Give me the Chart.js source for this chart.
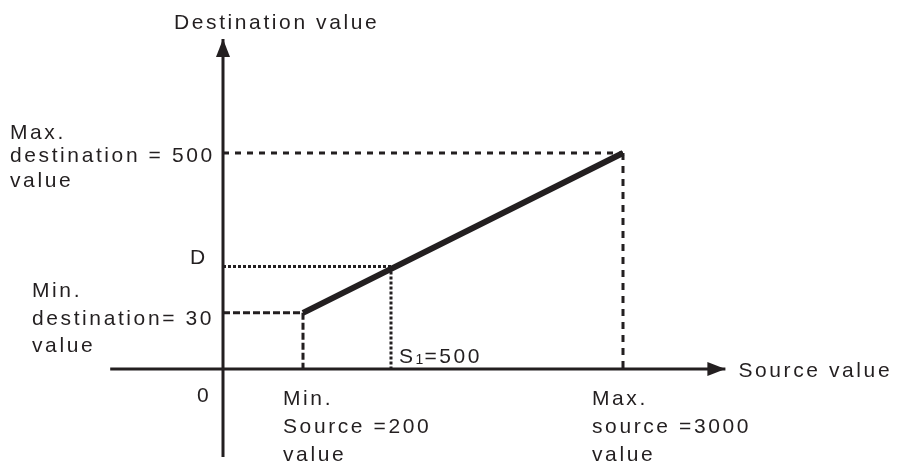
<!DOCTYPE html>
<html>
<head>
<meta charset="utf-8">
<script src="https://cdn.jsdelivr.net/npm/chart.js@4"></script>
<style>
  html, body { margin: 0; padding: 0; background: #fff; }
  #wrap { width: 900px; height: 466px; position: relative; }
</style>
</head>
<body>
<div id="wrap"><canvas id="escala"></canvas></div>
<script>
// sketch is not to scale: each value has its own spot along the axis (schematic units)
const sourceTicks = ['0', '200', '500', '3000'];
const sourceAt = [0, 1, 2.1, 5];
const destTicks = ['0', '30', 'D', '500'];
const destAt = [0, 1.04, 1.9, 4];
const axisX = [-1.41, 6.28];   // left end .. arrow tip
const axisY = [-1.63, 6.11];   // bottom end .. arrow tip

const ink = '#231f20';
const pt = (x, y) => ({ x, y });

const seg = (data, width, dash) => ({
  data, showLine: true, borderColor: ink, borderWidth: width,
  borderDash: dash || [], pointRadius: 0, borderCapStyle: 'butt', tension: 0
});

const datasets = [
  seg([pt(axisX[0], 0), pt(axisX[1], 0)], 3),
  seg([pt(0, axisY[0]), pt(0, axisY[1])], 3),
  // max guides
  seg([pt(0, destAt[3]), pt(sourceAt[3], destAt[3])], 3, [6, 6]),
  seg([pt(sourceAt[3], destAt[3]), pt(sourceAt[3], 0)], 3, [7, 6]),
  // min guides
  seg([pt(0, destAt[1]), pt(sourceAt[1], destAt[1])], 3, [7, 3]),
  seg([pt(sourceAt[1], destAt[1]), pt(sourceAt[1], 0)], 3, [7, 3]),
  // D / S1 guides
  seg([pt(0, destAt[2]), pt(sourceAt[2], destAt[2])], 3, [3, 2]),
  seg([pt(sourceAt[2], destAt[2]), pt(sourceAt[2], 0)], 3, [3, 2]),
  // scaling line
  seg([pt(sourceAt[1], destAt[1]), pt(sourceAt[3], destAt[3])], 6)
];

const FONT = '21px "Liberation Sans", Arial, sans-serif';
const SPACING = '2.6px';

const labels = {
  id: 'labels',
  afterDatasetsDraw(chart) {
    const ctx = chart.ctx;
    const X = v => chart.scales.x.getPixelForValue(v);
    const Y = v => chart.scales.y.getPixelForValue(v);
    const x0 = X(0), y0 = Y(0);
    ctx.save();
    ctx.fillStyle = ink;

    // arrow heads
    const tx = X(axisX[1]);
    ctx.beginPath();
    ctx.moveTo(tx, y0); ctx.lineTo(tx - 18, y0 - 7); ctx.lineTo(tx - 18, y0 + 7); ctx.closePath();
    ctx.fill();
    const ty = Y(axisY[1]);
    ctx.beginPath();
    ctx.moveTo(x0, ty); ctx.lineTo(x0 - 7, ty + 18); ctx.lineTo(x0 + 7, ty + 18); ctx.closePath();
    ctx.fill();

    ctx.font = FONT;
    if ('letterSpacing' in ctx) ctx.letterSpacing = SPACING;
    ctx.textAlign = 'left';
    ctx.textBaseline = 'alphabetic';
    const t = (s, x, y) => ctx.fillText(s, x, y);

    t('Destination value', x0 - 49, ty - 10);
    t('Source value', tx + 13, y0 + 8);

    const yMax = Y(destAt[3]);
    t('Max.', x0 - 213, yMax - 14);
    t('destination = ' + destTicks[3], x0 - 213, yMax + 9);
    t('value', x0 - 213, yMax + 34);

    const yMin = Y(destAt[1]);
    t('Min.', x0 - 191, yMin - 16);
    t('destination= ' + destTicks[1], x0 - 191, yMin + 12);
    t('value', x0 - 191, yMin + 39);

    t(destTicks[2], x0 - 33, Y(destAt[2]) - 2);
    t(sourceTicks[0], x0 - 26, y0 + 33);

    const xMin = X(sourceAt[1]);
    t('Min.', xMin - 20, y0 + 36);
    t('Source =' + sourceTicks[1], xMin - 20, y0 + 64);
    t('value', xMin - 20, y0 + 92);

    const xMax = X(sourceAt[3]);
    t('Max.', xMax - 31, y0 + 36);
    t('source =' + sourceTicks[3], xMax - 31, y0 + 64);
    t('value', xMax - 31, y0 + 92);

    // S1=500 with small subscript
    let sx = X(sourceAt[2]) + 8;
    const sy = y0 - 6;
    t('S', sx, sy);
    sx += ctx.measureText('S').width;
    ctx.font = '14px "Liberation Sans", Arial, sans-serif';
    if ('letterSpacing' in ctx) ctx.letterSpacing = '1px';
    t('1', sx, sy + 1);
    sx += ctx.measureText('1').width;
    ctx.font = FONT;
    if ('letterSpacing' in ctx) ctx.letterSpacing = SPACING;
    t('=' + sourceTicks[2], sx, sy);

    ctx.restore();
  }
};

new Chart(document.getElementById('escala'), {
  type: 'scatter',
  data: { datasets },
  options: {
    responsive: true,
    maintainAspectRatio: false,
    animation: false,
    layout: { padding: 0 },
    plugins: { legend: { display: false }, tooltip: { enabled: false } },
    scales: {
      x: { type: 'linear', display: false, min: -2.7875, max: 8.4625 },
      y: { type: 'linear', display: false, min: -1.796, max: 6.833 }
    }
  },
  plugins: [labels]
});
</script>
</body>
</html>
